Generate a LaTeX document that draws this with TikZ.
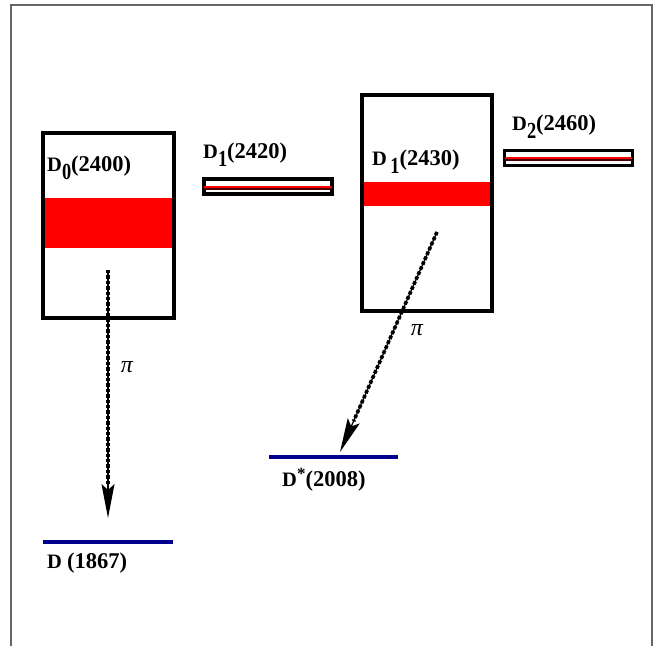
\documentclass[tikz,border=0pt]{standalone}
\usepackage{fontspec}
\setmainfont{Liberation Serif}
\usetikzlibrary{arrows.meta,calc}
\newcommand{\mainsz}{\fontsize{20.5}{21}\selectfont}
\newcommand{\numsz}{\fontsize{22.5}{23}\selectfont}
\newcommand{\subd}[1]{\raisebox{-8pt}{\fontsize{23}{23}\selectfont\scalebox{0.8}[1]{#1}}}
\tikzset{
  frame/.style={draw=black!60, line width=1.6pt},
  levelbox/.style={draw=black, line width=3.2pt, fill=none, minimum width=#1, inner sep=0pt},
  band/.style={fill=red, draw=none, inner sep=0pt},
  bar/.style={draw=black, line width=3.2pt, fill=white, inner sep=0pt, minimum width=128pt, minimum height=15pt},
  lbl/.style={anchor=base west, inner sep=0pt, font=\bfseries},
  pilbl/.style={anchor=center, inner sep=0pt, font=\fontsize{24}{24}\selectfont\itshape},
  ground/.style={draw={rgb,255:red,0;green,0;blue,140}, line width=3.4pt},
  decay/.style={line width=1.3pt, -{Stealth[length=34pt,width=13pt,inset=6pt]}},
  dots/.style={line width=3.6pt, dash pattern=on 3.4pt off 2pt}
}
\begin{document}
\begin{tikzpicture}[x=1pt,y=-1pt]
\useasboundingbox (0,0) rectangle (655,646);
% frame (open at bottom)
\draw[frame] (11,646) -- (11,5) -- (652,5) -- (652,646);

% D0(2400) box
\node[band, minimum width=127pt, minimum height=50pt] (b0band) at (108.5,223) {};
\node[levelbox=131pt, minimum height=185pt] (b0) at (108.5,225.5) {};
\node[lbl] (l0) at (47,171) {\mainsz D\subd{0}\numsz(2400)};

% D1(2420) bar
\node[bar] (bar1) at (268,186.5) {};
\draw[red, line width=2pt] ([xshift=2pt,yshift=-0.3pt]bar1.west) -- ([xshift=-2pt,yshift=-0.3pt]bar1.east);
\draw[black!70!red, line width=2pt] ([xshift=2pt,yshift=-2.3pt]bar1.west) -- ([xshift=-2pt,yshift=-2.3pt]bar1.east);
\node[lbl] (l1) at (203,158) {\mainsz D\subd{1}\numsz(2420)};

% D1(2430) box
\node[band, minimum width=126pt, minimum height=24pt] (b1band) at (427,194) {};
\node[levelbox=130pt, minimum height=216pt] (b1) at (427,203) {};
\node[lbl] (l2) at (372,165) {\mainsz D\,\subd{1}\numsz(2430)};

% D2(2460) bar
\node[bar] (bar2) at (568.5,158) {};
\draw[red, line width=2pt] ([xshift=2pt,yshift=-0.3pt]bar2.west) -- ([xshift=-2pt,yshift=-0.3pt]bar2.east);
\draw[black!70!red, line width=2pt] ([xshift=2pt,yshift=-2.3pt]bar2.west) -- ([xshift=-2pt,yshift=-2.3pt]bar2.east);
\node[lbl] (l3) at (512,130) {\mainsz D\subd{2}\numsz(2460)};

% ground levels
\coordinate (gA) at (43,542);
\coordinate (gB) at (173,542);
\draw[ground] (gA) -- (gB);
\node[lbl] (l4) at (47,568) {\mainsz D \numsz(1867)};
\coordinate (sA) at (269,457);
\coordinate (sB) at (398,457);
\draw[ground] (sA) -- (sB);
\node[lbl] (l5) at (282,486) {\mainsz D\raisebox{7pt}{\fontsize{17}{17}\selectfont *}\numsz(2008)};

% decays
\coordinate (a0s) at (108,270);
\coordinate (a0e) at (108,518);
\coordinate (a0m) at (108,486);
\draw[decay] (a0s) -- (a0e);
\draw[dots] (a0s) -- (a0m);
\node[pilbl] (pi0) at (127,367) {π};

\coordinate (a1s) at (437,232);
\coordinate (a1e) at (340,452);
\coordinate (a1m) at ($(a1s)!0.86!(a1e)$);
\draw[decay] (a1s) -- (a1e);
\draw[dots] (a1s) -- (a1m);
\node[pilbl] (pi1) at (417,330) {π};
\end{tikzpicture}
\end{document}
